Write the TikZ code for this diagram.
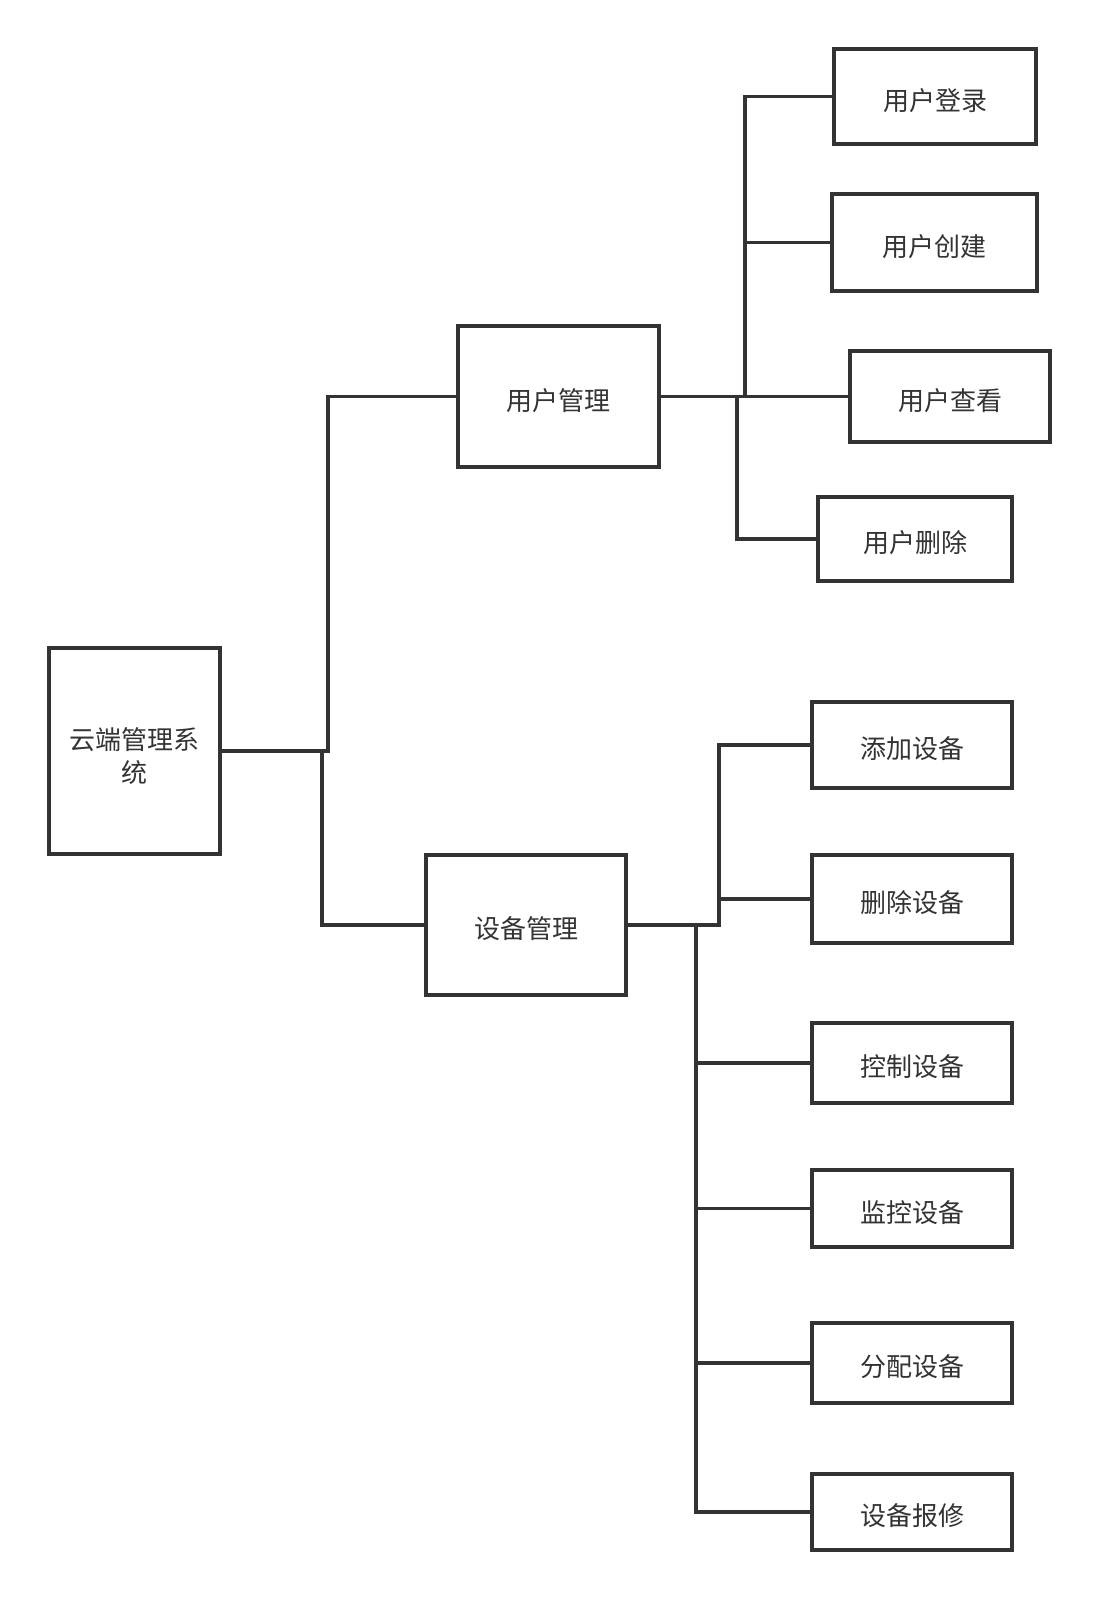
\documentclass[tikz,border=0pt]{standalone}
\usepackage{fontspec}
\setmainfont{Noto Sans CJK SC}
\usetikzlibrary{calc}
\definecolor{ink}{HTML}{333333}
\newcommand\lbl[2][-4pt]{\raisebox{#1}[\height][\depth]{#2}}
\tikzset{
  box/.style={draw=ink, line width=3.3pt, fill=white, inner sep=0pt, text=ink,
    font=\fontsize{26}{33}\selectfont, align=center},
  conn/.style={draw=ink, line width=3.3pt}
}
\begin{document}
\begin{tikzpicture}[x=1pt,y=-1pt]
\fill[white] (0,0) rectangle (1100,1598);
\useasboundingbox (0,0) rectangle (1100,1598);
% nodes
\node[box, minimum width=171pt, minimum height=206pt] (root) at (134.5,751) {\lbl[-8pt]{\begin{tabular}{@{}c@{}}云端管理系\\统\end{tabular}}};
\node[box, minimum width=201pt, minimum height=141pt] (um) at (558.5,396.5) {\lbl{用户管理}};
\node[box, minimum width=200pt, minimum height=140pt] (dm) at (526,925) {\lbl{设备管理}};
\node[box, minimum width=202pt, minimum height=95pt] (login) at (935,96.5) {\lbl{用户登录}};
\node[box, minimum width=205pt, minimum height=97pt] (create) at (934.5,242.5) {\lbl{用户创建}};
\node[box, minimum width=200pt, minimum height=91pt] (view) at (950,396.5) {\lbl{用户查看}};
\node[box, minimum width=194pt, minimum height=84pt] (udel) at (915,539) {\lbl{用户删除}};
\node[box, minimum width=200pt, minimum height=86pt] (add) at (912,745) {\lbl{添加设备}};
\node[box, minimum width=200pt, minimum height=88pt] (ddel) at (912,899) {\lbl{删除设备}};
\node[box, minimum width=200pt, minimum height=80pt] (ctrl) at (912,1063) {\lbl{控制设备}};
\node[box, minimum width=200pt, minimum height=77pt] (mon) at (912,1208.5) {\lbl{监控设备}};
\node[box, minimum width=200pt, minimum height=80pt] (assign) at (912,1363) {\lbl{分配设备}};
\node[box, minimum width=200pt, minimum height=76pt] (repair) at (912,1512) {\lbl{设备报修}};
% bus coordinates
\coordinate (b1) at (328,0);
\coordinate (b2) at (322,0);
\coordinate (bu1) at (745,0);
\coordinate (bu2) at (737,0);
\coordinate (bd1) at (719,0);
\coordinate (bd2) at (696,0);
% root connectors
\draw[conn] (root.east) -- (root.east -| b1) |- (um.west);
\draw[conn] (root.east -| b2) |- (dm.west);
% user management connectors
\draw[conn] (um.east) -- (view.west);
\draw[conn] (um.east -| bu1) |- (login.west);
\draw[conn] (create.west) -- (create.west -| bu1);
\draw[conn] (um.east -| bu2) |- (udel.west);
% device management connectors
\draw[conn] (dm.east) -| (bd1 |- add.west) -- (add.west);
\draw[conn] (ddel.west) -- (ddel.west -| bd1);
\draw[conn] (dm.east -| bd2) |- (repair.west);
\draw[conn] (ctrl.west) -- (ctrl.west -| bd2);
\draw[conn] (mon.west) -- (mon.west -| bd2);
\draw[conn] (assign.west) -- (assign.west -| bd2);
\end{tikzpicture}
\end{document}
